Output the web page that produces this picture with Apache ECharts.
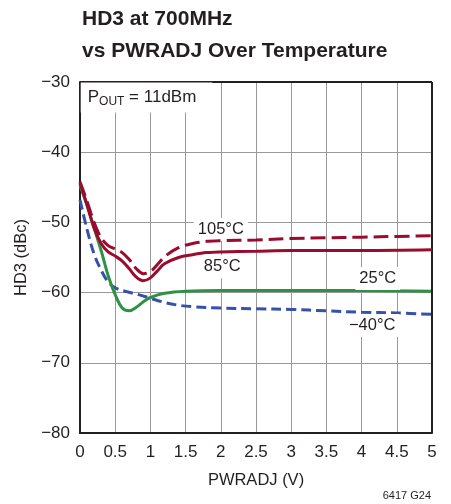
<!DOCTYPE html>
<html><head><meta charset="utf-8">
<script src="https://cdn.jsdelivr.net/npm/echarts@6/dist/echarts.min.js"></script>
<style>html,body{margin:0;padding:0;background:#fff}#c{width:451px;height:504px}</style>
</head><body><div id="c"></div>
<script>
var FONT = '"Liberation Sans","Arial",sans-serif';
var xTicks = [0,0.5,1,1.5,2,2.5,3,3.5,4,4.5,5];
var yTicks = [-80,-70,-60,-50,-40,-30];

var x105 = [0,0.1,0.2,0.3,0.4,0.5,0.6,0.7,0.8,0.9,1.0,1.1,1.2,1.4,1.6,1.8,2.0,2.5,3.0,3.5,4.0,4.5,5.0];
var y105 = [-44.2,-47.0,-50.0,-52.2,-53.3,-53.8,-54.3,-55.3,-56.6,-57.3,-57.0,-56.0,-54.9,-53.6,-53.0,-52.7,-52.6,-52.5,-52.3,-52.2,-52.1,-52.0,-51.9];

var x85 = [0,0.1,0.2,0.3,0.4,0.5,0.6,0.7,0.8,0.9,1.0,1.1,1.2,1.4,1.6,1.8,2.0,2.5,3.0,4.0,5.0];
var y85 = [-44.4,-47.5,-50.8,-53.0,-54.2,-54.8,-55.5,-56.6,-57.8,-58.3,-57.9,-56.9,-55.9,-55.0,-54.6,-54.3,-54.2,-54.1,-54.0,-54.0,-53.9];

var x25 = [0,0.1,0.2,0.3,0.4,0.5,0.6,0.7,0.8,0.9,1.0,1.2,1.5,2.0,3.0,4.0,5.0];
var y25 = [-44.7,-47.6,-50.8,-54.0,-57.6,-60.3,-62.2,-62.6,-62.1,-61.3,-60.7,-60.1,-59.8,-59.7,-59.7,-59.7,-59.8];

var xm40 = [0,0.1,0.2,0.3,0.4,0.5,0.6,0.8,1.0,1.2,1.4,1.6,2.0,2.5,3.0,3.5,4.0,4.5,5.0];
var ym40 = [-46.8,-51.0,-54.5,-56.8,-58.5,-59.3,-59.7,-60.2,-60.8,-61.4,-61.8,-62.0,-62.2,-62.3,-62.4,-62.6,-62.8,-62.9,-63.1];

var labels = [
  {text:'105°C', at:[2.0,-51.0]},
  {text:'85°C', at:[2.02,-56.3]},
  {text:'25°C', at:[4.23,-58.0]},
  {text:'\u221240°C', at:[4.15,-64.7]}
];

function pairs(xs, ys){ return xs.map(function(x,i){return [x, ys[i]];}); }
function minus(v){ return String(v).replace('-', '\u2212'); }

var RED = '#990c2e', GREEN = '#2f9046', BLUE = '#3552a8';
var INK = '#231f20';

function lineSeries(name, data, color, dash, z){
  return {name:name, type:'line', data:data, smooth:0.35, symbol:'none', z:z,
    lineStyle:{color:color, width:3, type:dash}};
}

var chart = echarts.init(document.getElementById('c'), null, {renderer:'canvas'});
var labelSeries = {
  type:'scatter', data:[], symbol:'none', silent:true, z:20,
  markPoint:{
    symbol:'rect', symbolSize:1, itemStyle:{color:'rgba(0,0,0,0)'},
    label:{show:true, position:'inside', fontFamily:FONT, fontSize:16.5, color:INK,
      backgroundColor:'#fff', padding:[3,4,3,4]},
    data: labels.map(function(l){ return {coord:l.at, value:l.text, label:{formatter:l.text}}; })
      .concat([{coord:[0.945,-32.2], value:'p', label:{formatter:'{m|P}{s|OUT}{m| = 11dBm}', padding:[5,16,5,7],
        rich:{m:{fontFamily:FONT, fontSize:17, color:INK}, s:{fontFamily:FONT, fontSize:12, color:INK, verticalAlign:'bottom', padding:[8,0,0,0]}}}}])
  }
};

chart.setOption({
  animation:false,
  backgroundColor:'#fff',
  title:{text:'HD3 at 700MHz\nvs PWRADJ Over Temperature', left:77, top:-2,
    textStyle:{fontFamily:FONT, fontWeight:'bold', fontSize:21, lineHeight:32, color:INK}},
  graphic:[{type:'text', right:20, bottom:3, style:{text:'6417 G24', fontFamily:FONT, fontSize:11, fill:INK}}],
  grid:{left:80, right:19, top:82, bottom:71},
  xAxis:{type:'value', min:0, max:5, interval:0.5,
    name:'PWRADJ (V)', nameLocation:'middle', nameGap:39,
    nameTextStyle:{fontFamily:FONT, fontSize:16.5, color:INK},
    axisLine:{show:true, lineStyle:{color:INK, width:2}},
    axisTick:{show:false},
    axisLabel:{fontFamily:FONT, fontSize:17, color:INK, margin:11},
    splitLine:{show:true, lineStyle:{color:'#999', width:1}}},
  yAxis:{type:'value', min:-80, max:-30, interval:10,
    name:'HD3 (dBc)', nameLocation:'middle', nameGap:42, nameRotate:90,
    nameTextStyle:{fontFamily:FONT, fontSize:16.5, color:INK},
    axisLine:{show:true, lineStyle:{color:INK, width:2}},
    axisTick:{show:false},
    axisLabel:{fontFamily:FONT, fontSize:17, color:INK, margin:10, formatter:function(v){return minus(v);}},
    splitLine:{show:true, lineStyle:{color:'#999', width:1}}},
  series:[
    lineSeries('-40°C', pairs(xm40, ym40), BLUE, [10,5], 3),
    lineSeries('25°C', pairs(x25, y25), GREEN, 'solid', 4),
    lineSeries('85°C', pairs(x85, y85), RED, 'solid', 5),
    lineSeries('105°C', pairs(x105, y105), RED, [15,6], 6),
    labelSeries,
    {type:'line', data:[], markLine:{silent:true, symbol:'none', label:{show:false},
      lineStyle:{color:INK, width:2, type:'solid'},
      data:[{xAxis:5},{yAxis:-30}]}}
  ]
});
</script></body></html>
